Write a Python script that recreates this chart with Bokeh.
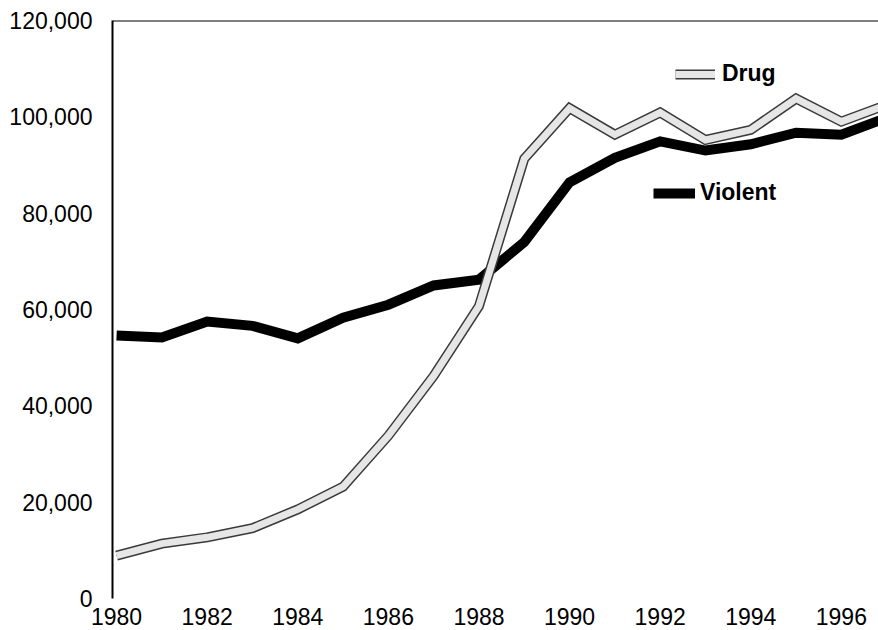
from bokeh.plotting import figure
from bokeh.models import (ColumnDataSource, FixedTicker, NumeralTickFormatter, Span,
                          Legend, LegendItem, Range1d)
from bokeh.embed import file_html
from bokeh.resources import INLINE

years = list(range(1980, 1998))
violent = [54600, 54200, 57500, 56600, 54000, 58300, 61000, 65000, 66200,
           74000, 86400, 91500, 94900, 93000, 94300, 96700, 96300, 99800]
drug = [8900, 11400, 12700, 14600, 18500, 23200, 33800, 46200, 60700,
        91300, 101800, 96300, 100900, 95200, 97300, 103800, 99000, 102500]
x_ticks = [1980, 1982, 1984, 1986, 1988, 1990, 1992, 1994, 1996]
y_ticks = [0, 20000, 40000, 60000, 80000, 100000, 120000]
series_names = ["Drug", "Violent"]

src = ColumnDataSource(dict(year=years, violent=violent, drug=drug))

p = figure(width=878, height=630, output_backend="svg", toolbar_location=None,
           x_range=Range1d(1979.91, 1996.82), y_range=Range1d(0, 120000),
           min_border_left=112, min_border_right=0, min_border_top=20,
           min_border_bottom=32)
p.outline_line_color = None
p.xgrid.visible = False
p.ygrid.visible = False
p.background_fill_color = "white"

FONT = "Liberation Sans"

p.yaxis.ticker = FixedTicker(ticks=y_ticks)
p.yaxis.formatter = NumeralTickFormatter(format="0,0")
p.yaxis.major_tick_line_color = None
p.yaxis.minor_tick_line_color = None
p.yaxis.axis_line_color = "black"
p.yaxis.axis_line_width = 2
p.yaxis.major_label_standoff = 14
p.yaxis.major_label_text_font = FONT
p.yaxis.major_label_text_font_size = "23px"
p.yaxis.major_label_text_color = "black"

p.xaxis.ticker = FixedTicker(ticks=x_ticks)
p.xaxis.major_tick_line_color = None
p.xaxis.minor_tick_line_color = None
p.xaxis.axis_line_color = None
p.xaxis.major_label_standoff = 3
p.xaxis.major_label_text_font = FONT
p.xaxis.major_label_text_font_size = "23px"
p.xaxis.major_label_text_color = "black"

p.add_layout(Span(location=120000, dimension="width", line_color="black", line_width=2))

v = p.line("year", "violent", source=src, line_color="black", line_width=10,
           line_join="miter")
d_out = p.line("year", "drug", source=src, line_color="#3a3a3a", line_width=10,
               line_join="miter")
d_in = p.line("year", "drug", source=src, line_color="#e6e6e6", line_width=7,
              line_join="miter")

common = dict(border_line_color=None, background_fill_alpha=0, padding=0, margin=0,
              label_text_font=FONT, label_text_font_style="bold",
              label_text_font_size="23px", label_text_color="black",
              glyph_height=26, label_height=26, spacing=0)

leg_d = Legend(items=[LegendItem(label=series_names[0], renderers=[d_out, d_in])],
               location=(563, 511), glyph_width=40, label_standoff=7, **common)
leg_v = Legend(items=[LegendItem(label=series_names[1], renderers=[v])],
               location=(541, 392), glyph_width=42, label_standoff=5, **common)
p.add_layout(leg_d)
p.add_layout(leg_v)

open("out.html", "w").write(file_html(p, INLINE))
